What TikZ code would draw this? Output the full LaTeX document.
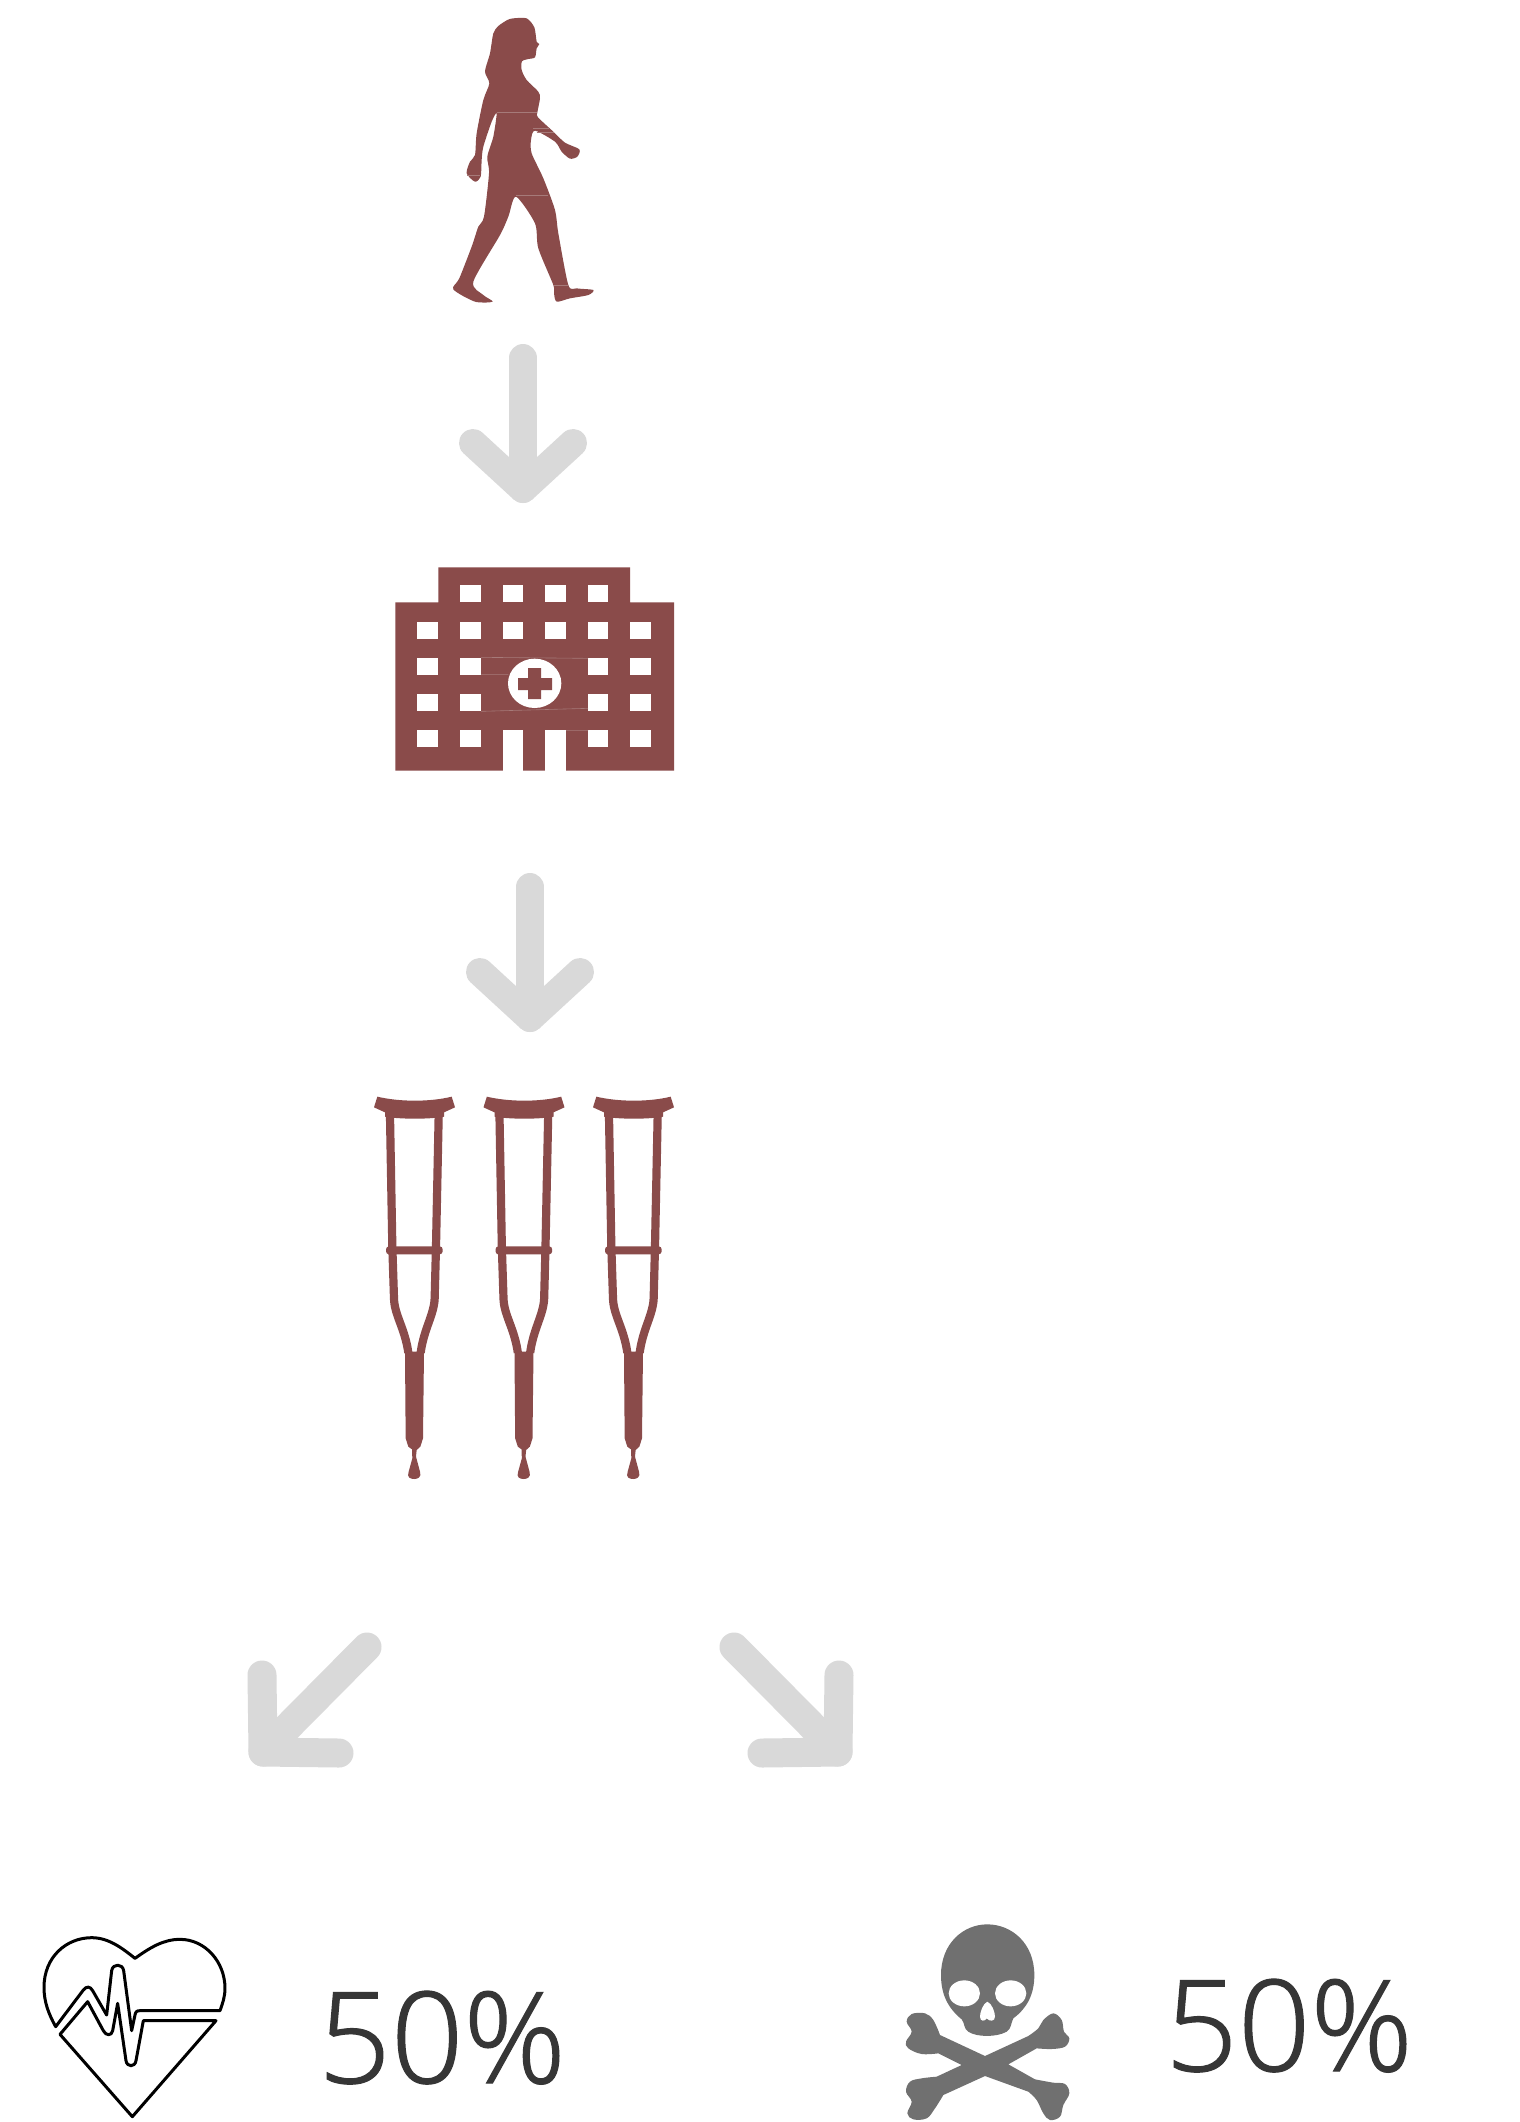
\documentclass[tikz,border=0pt]{standalone}
\usepackage{fontspec}
\newfontfamily\pctfont{Open Sans Light}[AutoFakeBold=0.9]
\definecolor{brownred}{HTML}{8A4B4A}
\definecolor{seam}{HTML}{A67A79}
\definecolor{arrowgray}{HTML}{D9D9D9}
\definecolor{skullgray}{HTML}{707070}
\definecolor{pcttext}{HTML}{363636}
\tikzset{
  flowarrow/.style={draw=arrowgray,line width=14pt,line cap=round,line join=round},
  diagarrow/.style={draw=arrowgray,line width=14.5pt,line cap=round,line join=round},
  iconfill/.style={fill=brownred,draw=none},
  seamline/.style={draw=seam,line width=0.3pt},
  windowbox/.style={fill=white,draw=none},
  heartline/.style={draw=black,line width=1.5pt,line join=round,line cap=round},
  pcttextstyle/.style={anchor=base west,inner sep=0pt,text=pcttext,font=\pctfont\bfseries\fontsize{63.5pt}{70pt}\selectfont},
  crutchicon/.pic={
    \fill[brownred] (42,82) -- (52,50) .. controls (120,66) and (210,66) .. (275,50) -- (285,82) -- (252,97) -- (252,110)
      .. controls (210,118) and (120,118) .. (75,110) -- (75,97) -- cycle;
    \draw[brownred,line width=4.1pt] (90,108) -- (97,500) -- (102,655) .. controls (103,705) and (135,745) .. (145,818);
    \draw[brownred,line width=4.1pt] (236,108) -- (228,500) -- (224,655) .. controls (222,705) and (192,745) .. (182,818);
    \fill[brownred,rounded corners=1.5pt] (78,499) rectangle (248,523);
    \fill[brownred] (135,815) -- (192,815) -- (189,1075) -- (181,1100) -- (170,1110) -- (168,1130) -- (180,1175)
      .. controls (186,1192) and (172,1197) .. (163,1197) .. controls (150,1197) and (140,1192) .. (146,1175)
      -- (157,1135) -- (156,1108) -- (145,1100) -- (137,1075) -- cycle;
  }
}
\begin{document}
\begin{tikzpicture}[x=0.5pt,y=-0.5pt]
\useasboundingbox (0,0) rectangle (1520,2122);
\fill[white] (0,0) rectangle (1520,2122);

% person
\begin{scope}[shift={(420,0)},scale=0.33333]
\fill[brownred] plot[smooth cycle,tension=0.45] coordinates {
(262,60)(280,55)(320,55)(343,82)(350,125)(358,132)(350,145)(345,172)(325,177)(306,184)(305,210)(320,240)(355,275)(360,295)(352,338)(354,352)(400,395)(435,428)(478,448)(472,470)(450,476)(425,455)(405,425)(345,392)(333,420)(335,460)(370,535)(405,630)(415,700)(445,855)(470,865)(520,870)(505,885)(450,895)(410,905)(402,880)(400,855)(355,745)(345,670)(288,590)(265,650)(240,705)(160,845)(190,885)(218,905)(165,905)(100,868)(118,835)(155,740)(175,680)(192,650)(207,520)(202,470)(220,410)(230,340)(215,365)(190,440)(185,480)(182,530)(165,545)(140,520)(150,485)(165,465)(170,400)(190,300)(208,250)(195,215)(210,160)(220,100)(235,78)};
\draw[seamline] (230,338) -- (352,338) (340,385) -- (388,385) (350,397) -- (403,397)
  (288,586) -- (385,586) (402,857) -- (445,857) (142,526) -- (180,526);
\end{scope}

% arrow 1
\coordinate (a1top) at (523,358);
\coordinate (a1tip) at (523,489);
\coordinate (a1l) at (473,443);
\coordinate (a1r) at (573,443);
\draw[flowarrow] (a1top) -- (a1tip);
\draw[flowarrow] (a1l) -- (a1tip) -- (a1r);

% hospital
\begin{scope}[shift={(370,550)},scale=0.33333]
\fill[brownred] (76,662) -- (76,157) -- (205,157) -- (205,52) -- (780,52) -- (780,157) -- (912,157) -- (912,662) -- cycle;
\foreach \xa/\xb in {270/333,399/459,525/588,654/714}
  \fill[windowbox] (\xa,106) rectangle (\xb,157);
\foreach \xa/\xb in {142/204,270/333,399/459,525/588,654/714,780/843}
  \fill[windowbox] (\xa,215) rectangle (\xb,266);
\foreach \xa/\xb in {142/204,270/333,654/714,780/843}{
  \fill[windowbox] (\xa,323) rectangle (\xb,375);
  \fill[windowbox] (\xa,432) rectangle (\xb,483);
  \fill[windowbox] (\xa,541) rectangle (\xb,592);
}
\fill[windowbox] (399,541) rectangle (459,662);
\fill[windowbox] (525,541) rectangle (588,662);
\draw[seamline] (333,322) -- (654,325) (333,484) -- (654,475) (333,373) -- (415,373) (588,541) -- (654,541);
\fill[white] (494,400) ellipse [x radius=80,y radius=74];
\fill[brownred] (474,354) -- (513,354) -- (513,384) -- (546,384) -- (546,420) -- (513,420) -- (513,447) -- (474,447) -- (474,420) -- (444,420) -- (444,384) -- (474,384) -- cycle;
\end{scope}

% arrow 2
\coordinate (a2top) at (530,887);
\coordinate (a2tip) at (530,1018);
\coordinate (a2l) at (480,972);
\coordinate (a2r) at (580,972);
\draw[flowarrow] (a2top) -- (a2tip);
\draw[flowarrow] (a2l) -- (a2tip) -- (a2r);

% crutches
\pic[shift={(360,1080)},scale=0.33333] {crutchicon};
\pic[shift={(469.5,1080)},scale=0.33333] {crutchicon};
\pic[shift={(579,1080)},scale=0.33333] {crutchicon};

% arrow 3 (left)
\coordinate (a3top) at (367,1647);
\coordinate (a3tip) at (263,1752);
\coordinate (a3up) at (262,1675);
\coordinate (a3end) at (339,1753);
\draw[diagarrow] (a3top) -- (a3tip);
\draw[diagarrow] (a3up) -- (a3tip) -- (a3end);

% arrow 4 (right)
\coordinate (a4top) at (734,1647);
\coordinate (a4tip) at (838,1752);
\coordinate (a4up) at (839,1675);
\coordinate (a4end) at (762,1753);
\draw[diagarrow] (a4top) -- (a4tip);
\draw[diagarrow] (a4up) -- (a4tip) -- (a4end);

% heart
\begin{scope}[shift={(20,1900)},scale=0.33333]
\draw[heartline] (107,380) .. controls (85,340) and (72,305) .. (72,262)
  .. controls (72,170) and (140,113) .. (215,113) .. controls (265,113) and (305,143) .. (345,175)
  .. controls (390,143) and (430,118) .. (480,118) .. controls (555,118) and (615,185) .. (615,265)
  .. controls (615,290) and (608,310) .. (600,332) -- (360,332) .. controls (350,332) and (347,335) .. (345,345)
  -- (335,392) -- (311,212) .. controls (308,190) and (278,190) .. (275,212) -- (260,345) -- (218,272)
  .. controls (210,258) and (200,258) .. (190,270) -- cycle;
\draw[heartline] (120,403) -- (203,305) -- (250,392) .. controls (258,408) and (275,408) .. (278,392)
  -- (293,310) -- (318,482) .. controls (321,502) and (345,502) .. (348,482) -- (370,362) -- (588,362)
  -- (337,650) -- cycle;
\end{scope}

% skull
\begin{scope}[shift={(880,1900)},scale=0.33333]
\fill[skullgray] (183,225) .. controls (183,130) and (250,73) .. (322,73) .. controls (395,73) and (463,130) .. (463,225)
  .. controls (463,285) and (440,325) .. (400,355) .. controls (392,370) and (395,385) .. (380,395)
  .. controls (350,412) and (290,412) .. (265,395) .. controls (250,385) and (255,370) .. (245,358)
  .. controls (205,325) and (183,285) .. (183,225) -- cycle;
\fill[white] (253,280) ellipse [x radius=47,y radius=39];
\fill[white] (392,280) ellipse [x radius=47,y radius=39];
\fill[white] (322,305) .. controls (310,310) and (300,335) .. (300,350) .. controls (300,365) and (315,365) .. (320,355)
  .. controls (328,365) and (345,365) .. (345,350) .. controls (345,335) and (335,310) .. (322,305) -- cycle;
\fill[skullgray] (315,468)
  -- plot[smooth,tension=0.6] coordinates {(445,408)(475,385)(490,360)(520,340)(545,360)(552,395)(568,415)(555,440)(515,447)(470,445)}
  -- (385,493)
  -- plot[smooth,tension=0.6] coordinates {(465,538)(520,548)(555,552)(568,580)(550,615)(540,650)(510,660)(490,640)(470,600)(445,575)}
  -- (315,528)
  -- plot[smooth,tension=0.6] coordinates {(190,585)(165,625)(140,655)(100,658)(82,640)(95,605)(78,575)(90,545)(125,535)(170,530)}
  -- (245,495)
  -- plot[smooth,tension=0.6] coordinates {(175,460)(125,462)(85,445)(78,425)(95,395)(80,365)(95,342)(135,340)(160,360)(180,405)}
  -- cycle;
\end{scope}

% percentages
\node[pcttextstyle] (pctleft) at (318,2083) {50\%};
\node[pcttextstyle] (pctright) at (1165,2071) {50\%};
\end{tikzpicture}
\end{document}
